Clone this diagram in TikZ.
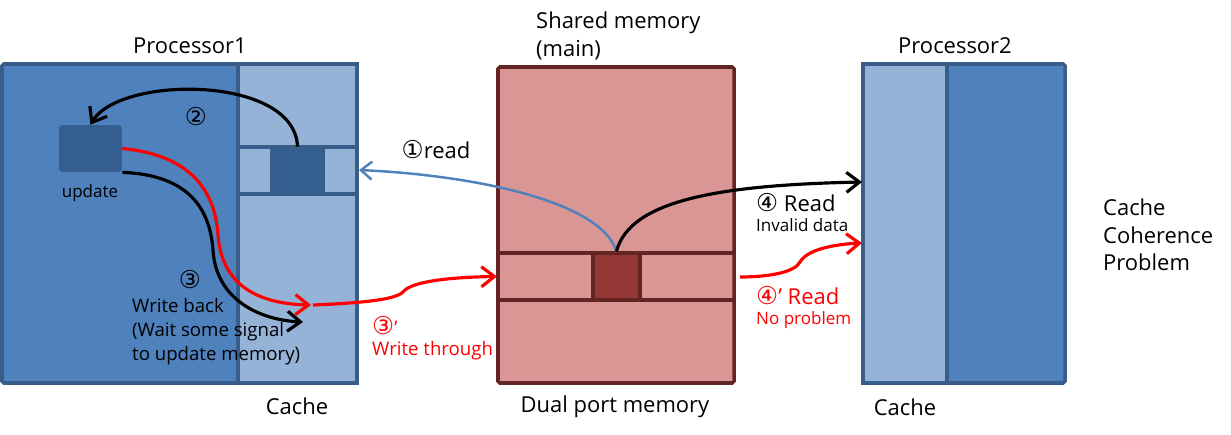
\documentclass[tikz,border=0pt]{standalone}
\usepackage{fontspec}
\setmainfont{Open Sans}
\newfontfamily\cnum{DejaVu Sans}
\usetikzlibrary{arrows.meta}
\definecolor{procblue}{HTML}{4F81BD}
\definecolor{cacheblue}{HTML}{95B3D7}
\definecolor{edgeblue}{HTML}{385D8A}
\definecolor{blockblue}{HTML}{365F91}
\definecolor{mempink}{HTML}{D99694}
\definecolor{memedge}{HTML}{632523}
\definecolor{memblock}{HTML}{953735}
\definecolor{wred}{HTML}{FF0000}

\begin{document}
\begin{tikzpicture}[x=0.02cm,y=-0.02cm,
    arr/.style={line width=1.8pt,-{Straight Barb[length=2.6mm,width=4mm,line width=1.8pt]}},
    big/.style={font=\fontsize{12.5}{15.5}\selectfont},
    mid/.style={font=\fontsize{10.6}{13.7}\selectfont},
    small/.style={font=\fontsize{9.7}{11}\selectfont}]
\useasboundingbox (0,0) rectangle (1231,435);
% processor 1
\draw[edgeblue, line width=2pt, fill=procblue, rounded corners=1pt] (2,64) rectangle (357,383);
\draw[edgeblue, line width=2pt, fill=cacheblue] (238,64) rectangle (357,383);
\node[fill=blockblue, inner sep=0, minimum width=1.02cm, minimum height=0.94cm] (cblk) at (297.5,170.5) {};
\draw[edgeblue, line width=2pt] (238,147) -- (357,147) (238,194) -- (357,194) (272,147) -- (272,194) (323,147) -- (323,194);
\node[fill=blockblue, rounded corners=2pt, inner sep=0, minimum width=1.26cm, minimum height=0.94cm] (upd) at (90.5,148.5) {};
% shared memory
\draw[memedge, line width=2pt, fill=mempink, rounded corners=1pt] (498,67) rectangle (734,383);
\draw[memedge, line width=2pt] (498,253) -- (734,253) (498,300) -- (734,300);
\node[draw=memedge, line width=2pt, fill=memblock, inner sep=0, minimum width=0.94cm, minimum height=0.94cm] (mblk) at (616.5,276.5) {};
% processor 2
\draw[edgeblue, line width=2pt, fill=procblue, rounded corners=1pt] (863,64) rectangle (1065,383);
\draw[edgeblue, line width=2pt, fill=cacheblue] (863,64) rectangle (947,383);

\coordinate (p1r) at (359,170);
\coordinate (wt) at (313,305);
\coordinate (p2a) at (862,182);
\coordinate (p2b) at (862,243);
\coordinate (mr) at (740,277);

\draw[arr] (cblk.north) .. controls (295,75) and (120,75) .. (upd.north);
\draw[arr] (upd.south east) .. controls (190,175) and (210,210) .. (213,250) .. controls (216,300) and (260,320) .. (303,322);
\draw[arr, wred] (upd.east) .. controls (190,155) and (215,190) .. (218,235) .. controls (222,290) and (265,304) .. (311,305);
\draw[arr, wred] (wt) .. controls (360,303) and (395,300) .. (403,292) .. controls (412,280) and (460,277) .. (mblk.west -| 497,0);
\draw[procblue, line width=1.4pt, -{Straight Barb[length=2.2mm,width=3.6mm,line width=1.4pt]}] (mblk.north) .. controls (600,200) and (470,175) .. (p1r);
\draw[arr] (mblk.north) .. controls (630,200) and (720,185) .. (p2a);
\draw[arr, wred] (mr) .. controls (770,277) and (795,272) .. (800,262) .. controls (808,248) and (840,244) .. (p2b);

\node[big] (t1) at (190,46) {Processor1};
\node[big, align=left, anchor=north west] (t2) at (530,6) {Shared memory\\(main)};
\node[big] (t3) at (955,46) {Processor2};
\node[big] (t4) at (297,406) {Cache};
\node[big] (t5) at (615,407) {Dual port memory};
\node[big] (t6) at (905,407) {Cache};
\node[big, align=left, anchor=north west, font=\fontsize{12.5}{15.6}\selectfont] (t7) at (1097,193) {Cache\\Coherence\\Problem};
\node[small] (t8) at (90,193) {update};
\node[font=\fontsize{14}{16}\selectfont] (n2) at (196,117) {\cnum ②};
\node[font=\fontsize{14}{16}\selectfont] (n3) at (190,280) {\cnum ③};
\node[mid, align=left, anchor=north west] (wb) at (126,292) {Write back\\(Wait some signal\\to update memory)};
\node[big] (rd) at (436,150) {{\cnum\fontsize{14}{16}\selectfont ①}read};
\node[mid, wred, anchor=west] (n3p) at (366,326) {{\cnum\fontsize{14}{16}\selectfont ③}’};
\node[mid, wred, anchor=west] (wth) at (366,351) {Write through};
\node[big, anchor=west] (r4) at (750,203) {{\cnum\fontsize{14}{16}\selectfont ④} Read};
\node[small, anchor=west] (inv) at (750,225) {Invalid data};
\node[big, wred, anchor=west] (r4p) at (750,296) {{\cnum\fontsize{14}{16}\selectfont ④}’ Read};
\node[small, wred, anchor=west] (nop) at (750,320) {No problem};
\end{tikzpicture}
\end{document}
